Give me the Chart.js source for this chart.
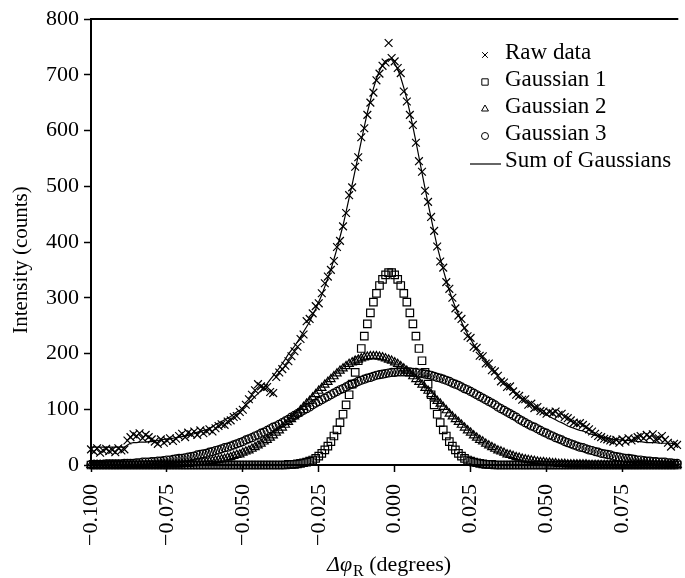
<!DOCTYPE html>
<html>
<head>
<meta charset="utf-8">
<script src="https://cdn.jsdelivr.net/npm/chart.js@4.4.1/dist/chart.umd.min.js"></script>
<style>
  body { margin: 0; background: #fff; }
  canvas { display: block; }
</style>
</head>
<body>
<canvas id="chart" width="685" height="578"></canvas>
<script>
// x positions in thousandths of a degree
var xMilli = [
 -100,-99,-98,-97,-96,-95,-94,-93,-92,-91,-90,-89,-88,-87,-86,-85,-84,-83,-82,-81,
 -80,-79,-78,-77,-76,-75,-74,-73,-72,-71,-70,-69,-68,-67,-66,-65,-64,-63,-62,-61,
 -60,-59,-58,-57,-56,-55,-54,-53,-52,-51,-50,-49,-48,-47,-46,-45,-44,-43,-42,-41,
 -40,-39,-38,-37,-36,-35,-34,-33,-32,-31,-30,-29,-28,-27,-26,-25,-24,-23,-22,-21,
 -20,-19,-18,-17,-16,-15,-14,-13,-12,-11,-10,-9,-8,-7,-6,-5,-4,-3,-2,-1,
 0,1,2,3,4,5,6,7,8,9,10,11,12,13,14,15,16,17,18,19,
 20,21,22,23,24,25,26,27,28,29,30,31,32,33,34,35,36,37,38,39,
 40,41,42,43,44,45,46,47,48,49,50,51,52,53,54,55,56,57,58,59,
 60,61,62,63,64,65,66,67,68,69,70,71,72,73,74,75,76,77,78,79,
 80,81,82,83,84,85,86,87,88,89,90,91,92,93
];

var rawData = [
 28,24,30,22,26,29,25,27,23,30,26,28,
 44,50,55,52,57,48,54,50,46,
 42,38,46,40,44,48,43,47,
 52,56,50,58,55,60,54,62,57,61,64,60,
 66,70,73,72,78,80,86,88,95,99,
 108,118,126,134,145,141,138,140,131,129,
 158,166,172,178,186,195,204,212,226,234,
 258,262,272,285,290,308,326,338,350,366,
 391,402,428,452,484,498,535,552,588,604,
 628,650,668,690,702,716,722,757,730,724,
 712,703,670,652,628,610,578,545,526,492,
 472,445,420,392,365,354,328,316,300,281,
 268,262,246,231,228,212,210,196,195,182,
 182,170,168,160,150,148,140,141,132,126,
 124,117,118,108,110,102,104,97,96,92,
 95,93,96,90,92,86,84,80,76,74,
 75,72,68,64,60,56,52,50,47,46,
 44,42,45,40,46,42,48,44,47,50,
 52,48,54,50,55,46,48,52,45,40,33,38,36
];

var gauss1 = [
 0,0,0,0,0,0,0,0,0,0,0,0,0,0,0,0,0,0,0,0,
 0,0,0,0,0,0,0,0,0,0,0,0,0,0,0,0,0,0,0,0,
 0,0,0,0,0,0,0,0,0,0,0,0,0,0,0,0,0,0,0,0,
 0,0,0,0,0,
 1,1,1,2,3,4,5,7,9,12,16,21,27,34,42,52,63,76,91,108,126,145,166,187,209,231,253,273,292,308,322,333,341,345,
 345,341,333,322,308,292,273,253,231,209,187,166,145,126,108,91,76,63,52,42,34,27,21,16,12,9,7,5,4,3,2,1,1,1,
 0,0,0,0,0,0,0,0,0,0,0,0,0,0,0,0,0,0,0,0,
 0,0,0,0,0,0,0,0,0,0,0,0,0,0,0,0,0,0,0,0,
 0,0,0,0,0,0,0,0,0,0,0,0,0,0,0,0,0,0,0,0,0
];

var gauss2 = [
 0,0,0,0,0,0,0,0,0,0,0,0,0,0,0,0,0,0,0,0,0,0,0,
 1,1,1,1,1,1,1,2,2,2,3,3,4,4,5,5,6,7,8,9,10,11,13,14,16,18,19,22,24,26,
 29,32,35,38,42,45,49,53,58,62,67,72,77,82,87,92,98,104,110,115,121,127,133,138,
 144,149,154,159,164,169,173,177,181,184,187,189,191,193,194,195,
 195,
 195,194,193,191,189,187,184,181,177,173,169,164,159,154,149,144,
 138,133,127,121,115,110,104,98,92,87,82,77,72,67,62,58,53,49,45,42,38,35,32,29,
 26,24,22,19,18,16,14,13,11,10,9,8,7,6,5,5,4,4,3,3,2,2,2,1,1,1,1,1,1,1,
 0,0,0,0,0,0,0,0,0,0,0,0,0,0,0,0,0,0,0,0,0,0,0,0,0,0,0,0,0,0
];

var gauss3 = [
 1,1,1,1,1,2,2,2,2,2,2,3,3,3,3,4,4,5,5,5,6,6,7,7,8,9,9,10,11,12,12,13,14,15,16,18,19,20,21,23,
 24,26,27,29,31,32,34,36,38,40,42,45,47,49,52,54,57,59,62,65,68,70,73,76,79,82,86,89,92,95,
 98,101,104,108,111,114,117,120,123,126,129,132,135,137,140,143,145,147,150,152,154,156,157,159,161,162,163,164,165,166,
 166,167,167,
 167,
 167,167,166,166,165,164,163,162,161,159,157,156,154,152,150,147,145,143,140,137,
 135,132,129,126,123,120,117,114,111,108,104,101,98,95,92,89,86,82,79,76,
 73,70,68,65,62,59,57,54,52,49,47,45,42,40,38,36,34,32,31,29,
 27,26,24,23,21,20,19,18,16,15,14,13,12,12,11,10,9,9,8,7,
 7,6,6,5,5,5,4,4,3,3
];

var gaussSum = [
 32,32,32,32,32,32,32,32,32,32,32,32,
 36,39,40,40,41,41,41,42,42,
 43,44,45,46,47,47,48,49,50,51,52,53,55,56,59,60,62,63,66,68,
 73,75,78,81,84,87,91,95,98,103,108,112,117,123,128,134,140,146,153,160,167,174,182,190,199,
 206,213,221,230,239,248,257,269,280,293,
 305,320,335,351,369,388,409,430,454,479,503,529,555,581,607,632,654,675,693,707,718,725,728,727,
 720,710,695,677,657,633,607,580,552,524,
 496,469,443,417,392,371,350,331,313,297,
 283,270,257,245,235,226,216,208,200,193,
 185,179,173,166,159,154,149,143,139,134,
 129,124,119,115,111,107,104,100,96,93,
 90,87,84,81,78,76,73,70,68,66,
 64,62,61,59,56,55,53,52,50,49,
 48,47,46,46,45,45,44,44,43,43,42,42,41,40,40,40,40,39,39,39,39,39,38,38
];

var xTicks = [-0.1, -0.075, -0.05, -0.025, 0, 0.025, 0.05, 0.075];
var yTicks = [0, 100, 200, 300, 400, 500, 600, 700, 800];

var seriesNames = ['Raw data', 'Gaussian 1', 'Gaussian 2', 'Gaussian 3', 'Sum of Gaussians'];

function toPoints(ys) {
  var pts = [];
  for (var i = 0; i < xMilli.length; i++) {
    pts.push({x: xMilli[i] / 1000, y: ys[i]});
  }
  return pts;
}

var serif = '"Liberation Serif", "Times New Roman", serif';
var ink = '#000';

var decorations = {
  id: 'decorations',
  afterDraw: function(chart) {
    var ctx = chart.ctx;
    var area = chart.chartArea;
    ctx.save();

    // top frame line
    ctx.strokeStyle = '#000';
    ctx.lineWidth = 2;
    ctx.beginPath();
    ctx.moveTo(area.left - 1, area.top);
    ctx.lineTo(area.right, area.top);
    ctx.stroke();

    // legend
    var styles = ['crossRot', 'rect', 'triangle', 'circle'];
    var radii = [4, 4.5, 4, 3.5];
    var rows = [53, 80, 107, 134, 161];
    ctx.font = '23px ' + serif;
    ctx.textBaseline = 'middle';
    ctx.textAlign = 'left';
    for (var i = 0; i < seriesNames.length; i++) {
      if (i < 4) {
        ctx.strokeStyle = ink;
        ctx.fillStyle = 'rgba(0,0,0,0)';
        ctx.lineWidth = 1;
        Chart.helpers.drawPoint(ctx, {pointStyle: styles[i], radius: radii[i], borderWidth: 1, rotation: 0}, 485, rows[i] + 2);
      } else {
        ctx.strokeStyle = '#000';
        ctx.lineWidth = 1.2;
        ctx.beginPath();
        ctx.moveTo(470, rows[i] + 3);
        ctx.lineTo(501, rows[i] + 3);
        ctx.stroke();
      }
      ctx.fillStyle = '#000';
      ctx.fillText(seriesNames[i], 505, rows[i]);
    }

    // y axis title
    ctx.font = '21px ' + serif;
    ctx.textAlign = 'center';
    ctx.save();
    ctx.translate(21, 260);
    ctx.rotate(-Math.PI / 2);
    ctx.fillText('Intensity (counts)', 0, 0);
    ctx.restore();

    // x axis title: italic delta phi, subscript R, then (degrees)
    ctx.textBaseline = 'alphabetic';
    ctx.textAlign = 'left';
    var x0 = 327, base = 571;
    ctx.font = 'italic 22px ' + serif;
    ctx.fillText('\u0394\u03c6', x0, base);
    x0 += ctx.measureText('\u0394\u03c6').width;
    ctx.font = '16px ' + serif;
    ctx.fillText('R', x0 + 1, base + 5);
    x0 += ctx.measureText('R').width + 1;
    ctx.font = '22px ' + serif;
    ctx.fillText(' (degrees)', x0, base);

    ctx.restore();
  }
};

var markerBase = {
  showLine: false,
  borderColor: ink,
  backgroundColor: 'rgba(0,0,0,0)',
  borderWidth: 1.2,
  pointBorderWidth: 1.2,
  clip: false
};

new Chart(document.getElementById('chart'), {
  type: 'scatter',
  data: {
    datasets: [
      Object.assign({}, markerBase, {label: seriesNames[0], data: toPoints(rawData), pointStyle: 'crossRot', pointRadius: 5.5}),
      Object.assign({}, markerBase, {label: seriesNames[1], data: toPoints(gauss1), pointStyle: 'rect', pointRadius: 5.3}),
      Object.assign({}, markerBase, {label: seriesNames[2], data: toPoints(gauss2), pointStyle: 'triangle', pointRadius: 4.8}),
      Object.assign({}, markerBase, {label: seriesNames[3], data: toPoints(gauss3), pointStyle: 'circle', pointRadius: 4}),
      {
        label: seriesNames[4],
        data: toPoints(gaussSum),
        showLine: true,
        pointRadius: 0,
        borderColor: '#000',
        borderWidth: 1.2,
        tension: 0,
        fill: false
      }
    ]
  },
  options: {
    responsive: false,
    animation: false,
    devicePixelRatio: 1,
    layout: { padding: { top: 19, right: 0, bottom: 0, left: 0 } },
    plugins: {
      legend: { display: false },
      tooltip: { enabled: false }
    },
    scales: {
      x: {
        type: 'linear',
        min: -0.1,
        max: 0.0934,
        afterBuildTicks: function(scale) {
          scale.ticks = xTicks.map(function(v) { return {value: v}; });
        },
        afterFit: function(scale) { scale.height = 113; },
        ticks: {
          minRotation: 90,
          maxRotation: 90,
          padding: 12,
          color: '#000',
          font: { family: serif, size: 22 },
          callback: function(v) {
            var s = Math.abs(v).toFixed(3);
            return v < -1e-9 ? '\u2212' + s : s;
          }
        },
        grid: { drawOnChartArea: false, tickLength: 7, tickColor: '#000', tickWidth: 1.5 },
        border: { color: '#000', width: 2 }
      },
      y: {
        min: 0,
        max: 800,
        afterBuildTicks: function(scale) {
          scale.ticks = yTicks.map(function(v) { return {value: v}; });
        },
        afterFit: function(scale) { scale.width = 91; },
        ticks: {
          padding: 5,
          color: '#000',
          font: { family: serif, size: 22 }
        },
        grid: { drawOnChartArea: false, tickLength: 7, tickColor: '#000', tickWidth: 1.5 },
        border: { color: '#000', width: 2 }
      }
    }
  },
  plugins: [decorations]
});
</script>
</body>
</html>
